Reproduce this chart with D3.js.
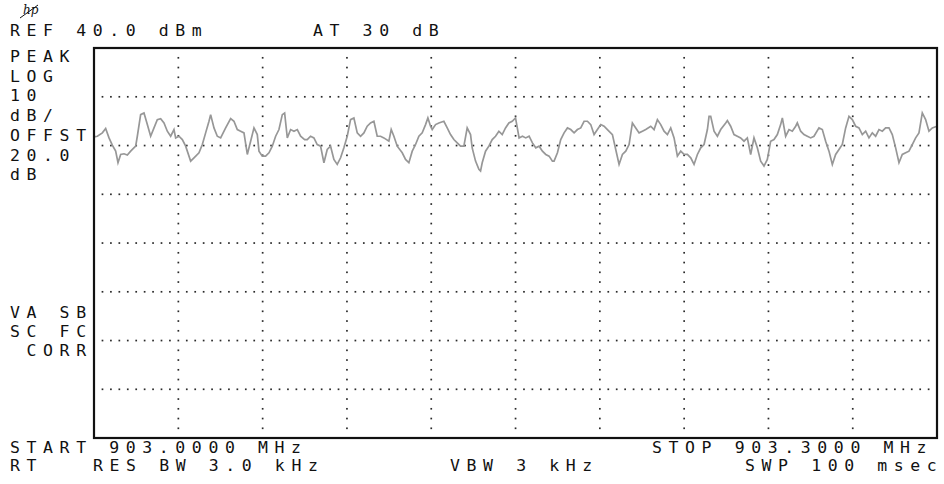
<!DOCTYPE html>
<html>
<head>
<meta charset="utf-8">
<script src="https://cdn.jsdelivr.net/npm/d3@7"></script>
<style>
  body { margin: 0; background: #fff; }
  svg text { font-family: "DejaVu Sans Mono", monospace; font-size: 16.5px; letter-spacing: 6.6px; fill: #111; white-space: pre; }
</style>
</head>
<body>
<svg width="944" height="484"></svg>
<script>
// analyzer settings
var startMHz = 903.0;
var stopMHz = 903.3;
var refLevel = 40;      // dBm, top of screen
var dbPerDiv = 10;
var xDivs = 10;
var yDivs = 8;

// labels round the screen
var refLabel = "REF 40.0 dBm";
var attenLabel = "AT 30 dB";
var sideLabels = ["PEAK", "LOG", "10", "dB/", "OFFST", "20.0", "dB"];
var corrLabels = ["VA SB", "SC FC", " CORR"];
var startLabel = "START 903.0000 MHz";
var stopLabel = "STOP 903.3000 MHz";
var rtLabel = "RT";
var rbwLabel = "RES BW 3.0 kHz";
var vbwLabel = "VBW 3 kHz";
var swpLabel = "SWP 100 msec";

// trace: offset from start (kHz) and level (dBm)
var traceKHz = [0.0, 1.19, 2.97, 4.15, 5.34, 6.52, 7.71, 8.54, 9.49, 10.67, 11.86, 13.05, 14.83, 15.42, 16.60, 17.79,
  18.98, 20.16, 21.35, 22.53, 23.72, 24.91, 26.09, 27.28, 28.46, 29.06, 30.24, 31.43, 32.62, 34.39, 35.58, 37.36,
  38.55, 39.73, 40.92, 41.51, 42.70, 43.88, 45.07, 46.85, 48.63, 49.81, 51.00, 52.18, 53.37, 54.56, 55.74, 56.93,
  58.11, 58.71, 59.89, 61.08, 62.27, 63.45, 64.64, 65.82, 67.01, 67.84, 68.79, 69.97, 71.16, 72.35, 73.53, 74.96,
  75.89, 77.07, 78.26, 79.44, 80.63, 81.82, 83.00, 84.19, 85.37, 86.56, 87.75, 88.93, 90.12, 91.30, 92.49, 93.68,
  94.86, 96.05, 97.23, 98.42, 99.61, 100.79, 101.98, 103.16, 104.94, 105.77, 106.72, 107.91, 109.69, 110.87, 112.06, 113.25,
  114.43, 115.62, 116.80, 117.99, 118.82, 119.77, 120.36, 121.55, 122.73, 124.51, 125.70, 126.88, 128.07, 129.26, 130.44, 131.63,
  132.81, 134.00, 134.59, 135.78, 136.97, 137.56, 138.15, 139.34, 140.52, 141.71, 142.90, 144.08, 145.27, 146.45, 147.64, 148.83,
  150.01, 151.28, 152.47, 153.65, 154.84, 156.02, 157.21, 158.40, 159.58, 160.77, 161.95, 163.14, 163.73, 164.92, 166.10, 167.29,
  168.48, 169.66, 170.85, 172.03, 173.22, 174.41, 175.59, 176.78, 177.96, 179.15, 180.34, 181.52, 182.71, 184.49, 185.67, 186.86,
  188.05, 189.23, 190.42, 191.60, 192.79, 193.98, 195.16, 196.35, 198.13, 199.31, 200.50, 201.68, 202.87, 204.06, 205.24, 206.43,
  207.61, 208.80, 209.99, 211.17, 212.36, 213.54, 214.73, 215.92, 217.10, 218.29, 218.88, 219.47, 220.66, 221.85, 223.03, 224.81,
  225.39, 226.57, 227.76, 228.94, 230.13, 231.32, 232.50, 233.69, 234.87, 236.06, 237.25, 238.43, 239.62, 240.80, 241.99, 243.18,
  244.36, 244.96, 246.14, 247.33, 248.51, 249.70, 250.29, 251.48, 252.66, 253.85, 255.04, 256.22, 258.00, 259.19, 260.37, 261.56,
  262.75, 263.93, 265.12, 266.30, 267.49, 268.68, 269.86, 271.05, 272.23, 273.42, 274.61, 275.79, 276.98, 278.16, 279.35, 280.54,
  281.72, 282.91, 284.09, 285.28, 286.47, 287.65, 288.84, 290.02, 291.21, 292.40, 293.58, 294.77, 295.95, 297.14, 298.33, 300.0];
var traceDbm = [21.77, 21.90, 22.59, 23.47, 21.56, 20.07, 18.84, 16.46, 18.16, 18.30, 18.03, 18.84, 19.86, 21.90, 26.33, 26.67,
  24.29, 21.90, 23.61, 25.31, 25.51, 24.63, 22.93, 21.90, 23.27, 21.56, 21.90, 21.22, 19.86, 16.80, 17.48, 18.50,
  20.20, 22.59, 24.97, 26.33, 23.61, 21.90, 21.56, 23.61, 25.51, 24.97, 23.27, 22.93, 22.59, 18.16, 20.88, 23.61,
  22.24, 18.84, 17.82, 17.82, 18.50, 19.86, 21.90, 23.27, 26.33, 26.67, 21.56, 23.27, 22.93, 23.27, 21.90, 21.22,
  21.22, 21.90, 21.56, 20.20, 19.86, 16.46, 19.18, 19.86, 17.14, 16.12, 17.48, 19.52, 21.90, 25.31, 25.65, 22.59,
  21.90, 22.59, 23.95, 24.63, 24.97, 21.90, 21.90, 21.56, 20.88, 23.27, 21.90, 19.86, 18.50, 17.14, 16.46, 18.84,
  20.20, 21.90, 22.59, 24.29, 25.65, 23.95, 23.27, 24.29, 24.63, 24.97, 23.61, 22.24, 21.22, 20.54, 19.86, 19.86,
  23.61, 22.24, 19.52, 16.80, 15.10, 14.76, 16.46, 18.84, 19.86, 21.22, 21.90, 22.93, 22.24, 23.61, 24.63, 24.97,
  25.65, 21.56, 21.90, 21.56, 21.90, 20.54, 19.52, 19.86, 18.84, 18.16, 17.82, 16.80, 16.80, 18.50, 21.22, 22.59,
  23.61, 23.27, 22.59, 23.27, 23.61, 24.97, 24.97, 24.29, 22.24, 23.27, 24.29, 23.95, 23.27, 22.24, 19.18, 16.12,
  18.16, 18.84, 20.20, 24.63, 23.61, 22.59, 22.93, 23.27, 23.95, 23.27, 25.31, 24.29, 22.93, 22.24, 23.61, 21.56,
  17.82, 18.84, 18.16, 18.16, 17.48, 16.12, 18.16, 19.52, 20.20, 23.27, 25.99, 25.99, 22.93, 21.90, 23.27, 24.63,
  25.10, 23.95, 22.24, 21.90, 21.56, 20.88, 21.56, 18.16, 21.56, 19.52, 16.80, 15.78, 17.14, 20.88, 21.22, 22.24,
  24.29, 25.65, 21.90, 23.27, 22.93, 23.95, 24.63, 22.93, 22.24, 21.90, 21.56, 21.90, 23.61, 23.27, 20.88, 18.84,
  16.12, 18.16, 19.18, 20.20, 23.61, 25.99, 25.31, 23.95, 23.61, 22.24, 22.93, 21.56, 22.59, 21.90, 23.27, 22.93,
  23.61, 23.61, 22.24, 19.52, 16.46, 18.16, 18.50, 18.84, 20.20, 21.56, 22.59, 26.67, 25.31, 22.93, 23.61, 23.95];

var svg = d3.select("svg");

// screen edges in pixels
var scrLeft = 94, scrRight = 937, scrTop = 48, scrBottom = 438;

var x = d3.scaleLinear().domain([startMHz, stopMHz]).range([scrLeft, scrRight]);
var y = d3.scaleLinear().domain([refLevel - yDivs * dbPerDiv, refLevel]).range([scrBottom, scrTop]);

// graticule as dots: 10 per division across, 5 per division down
var xStep = (stopMHz - startMHz) / xDivs;
var dots = [];
for (var j = 1; j < yDivs; j++) {
  var lvl = refLevel - j * dbPerDiv;
  for (var k = 1; k < xDivs * 10; k++) dots.push([startMHz + k * xStep / 10, lvl]);
}
for (var i = 1; i < xDivs; i++) {
  var f = startMHz + i * xStep;
  for (var k = 1; k < yDivs * 5; k++) {
    if (k % 5 == 0) continue; // already on a horizontal line
    dots.push([f, refLevel - k * dbPerDiv / 5]);
  }
}
svg.append("g")
  .selectAll("rect")
  .data(dots)
  .enter().append("rect")
  .attr("x", d => x(d[0]) - 0.8)
  .attr("y", d => y(d[1]) - 0.8)
  .attr("width", 1.7)
  .attr("height", 1.7)
  .attr("fill", "#2a2a2a");

// the trace
var trace = traceKHz.map((k, i) => [startMHz + k / 1000, traceDbm[i]]);
var line = d3.line().x(d => x(d[0])).y(d => y(d[1]));
svg.append("path")
  .datum(trace)
  .attr("d", line)
  .attr("fill", "none")
  .attr("stroke", "#979797")
  .attr("stroke-width", 1.7)
  .attr("stroke-linejoin", "miter");

// screen frame
svg.append("rect")
  .attr("x", x(startMHz))
  .attr("y", y(refLevel))
  .attr("width", x(stopMHz) - x(startMHz))
  .attr("height", y(refLevel - yDivs * dbPerDiv) - y(refLevel))
  .attr("fill", "none")
  .attr("stroke", "#111")
  .attr("stroke-width", 2.2);

// hp logo
var logo = svg.append("g").attr("transform", "translate(20,3)");
logo.append("text")
  .attr("x", 3).attr("y", 11)
  .style("font-family", "DejaVu Serif")
  .style("font-style", "italic")
  .style("font-size", "12px")
  .style("letter-spacing", "0px")
  .text("hp");
logo.append("line")
  .attr("x1", 0).attr("y1", 15).attr("x2", 18).attr("y2", 2)
  .attr("stroke", "#111").attr("stroke-width", 1);

function label(str, px, py) {
  svg.append("text").attr("x", px).attr("y", py).text(str);
}

label(refLabel, 10, 36);
label(attenLabel, 313, 36);
sideLabels.forEach((s, i) => label(s, 10, 62 + i * 19.7));
corrLabels.forEach((s, i) => label(s, 10, 318 + i * 19));
label(startLabel, 10, 453);
label(stopLabel, 652, 453);
label(rtLabel, 10, 471);
label(rbwLabel, 93, 471);
label(vbwLabel, 450, 471);
label(swpLabel, 745, 471);
</script>
</body>
</html>
